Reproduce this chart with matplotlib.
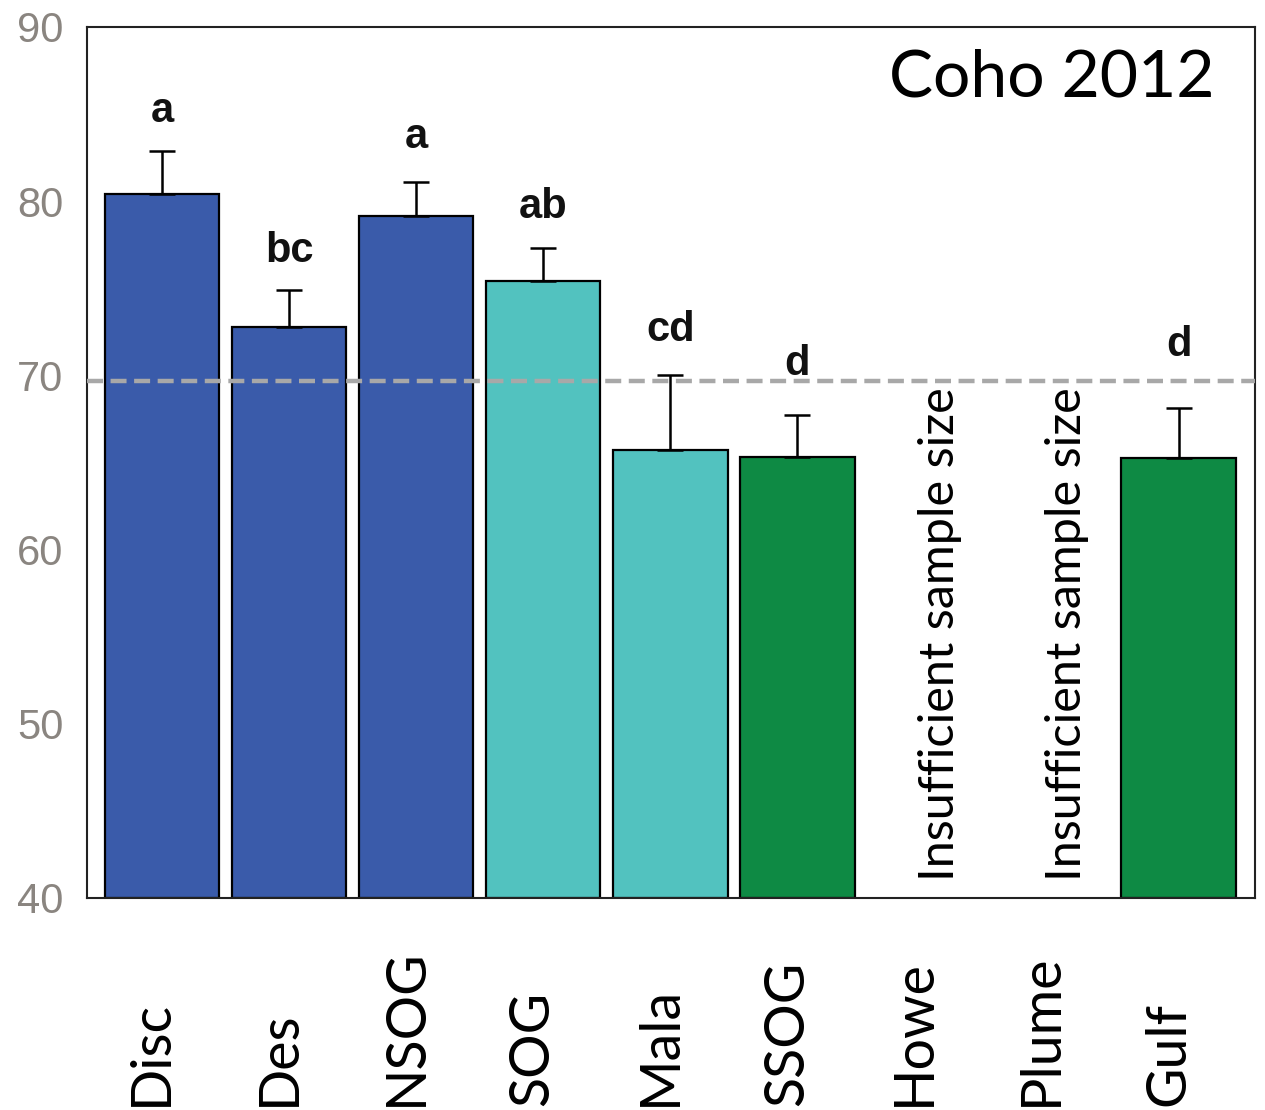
import numpy as np
import matplotlib.pyplot as plt
from matplotlib import transforms

# Coho 2012 condition by region
regions = ["Disc", "Des", "NSOG", "SOG", "Mala", "SSOG", "Howe", "Plume", "Gulf"]
means = [80.4, 72.8, 79.15, 75.4, 65.7, 65.3, np.nan, np.nan, 65.25]
upper_err = [2.5, 2.1, 1.95, 1.9, 4.3, 2.4, np.nan, np.nan, 2.85]
letters = ["a", "bc", "a", "ab", "cd", "d", "", "", "d"]
letter_y = [84.55, 76.5, 83.05, 79.05, 72.0, 70.0, np.nan, np.nan, 71.1]
groups = ["north", "north", "north", "central", "central", "south", "", "", "south"]
missing = ["Howe", "Plume"]
reference_level = 69.7

group_colors = {"north": "#3A5BAA", "central": "#52C2BF", "south": "#0E8A44"}

fig = plt.figure(figsize=(12.65, 11.1), dpi=100)
ax = fig.add_axes([0.0688, 0.191, 0.9232, 0.7847])

x = np.arange(len(regions))
has_data = ~np.isnan(means)
colors = [group_colors.get(g, "white") for g in groups]

ax.bar(x[has_data], np.array(means)[has_data] - 40, bottom=40, width=0.9,
       color=np.array(colors)[has_data], edgecolor="black", linewidth=1.6,
       zorder=2)

# one-sided (upper) error bars
m = np.array(means)[has_data]
e = np.array(upper_err)[has_data]
ax.errorbar(x[has_data], m, yerr=[np.zeros_like(e), e], fmt="none",
            ecolor="black", elinewidth=1.8, capsize=9.5, capthick=1.8, zorder=3)

# significance letters
for xi, yi, lab in zip(x, letter_y, letters):
    if lab:
        ax.text(xi, yi, lab, ha="center", va="baseline", fontsize=30,
                fontweight="bold", family="Liberation Sans", color="#111111")

ax.axhline(reference_level, color="#A8A8A8", linewidth=3.2, dashes=(3.6, 1.7),
           zorder=4)

for name in missing:
    xi = regions.index(name)
    ax.text(xi + 0.12, 41.0, "Insufficient sample size", rotation=90,
            ha="center", va="bottom", fontsize=35, family="Lato", color="black")

ax.text(0.965, 0.975, "Coho 2012", transform=ax.transAxes, ha="right", va="top",
        fontsize=47.5, family="Lato", color="black")

ax.set_xlim(-0.59, 8.6)
ax.set_ylim(40, 90)
ax.set_yticks([40, 50, 60, 70, 80, 90])
ax.tick_params(axis="y", length=0, pad=17, labelsize=30, labelcolor="#8A8580")
for lbl in ax.get_yticklabels():
    lbl.set_family("Liberation Sans")
ax.set_xticks([])

for side in ["left", "bottom", "top", "right"]:
    ax.spines[side].set_linewidth(1.5)
    ax.spines[side].set_color("#222222")

# region names, rotated and anchored near the bottom edge
trans = transforms.blended_transform_factory(ax.transData, fig.transFigure)
for xi, name in zip(x, regions):
    ax.text(xi - 0.08, 0.004, name, transform=trans, rotation=90, ha="center",
            va="bottom", fontsize=40, family="Lato", color="black")

fig.savefig("out.png", dpi=100, facecolor="white")
